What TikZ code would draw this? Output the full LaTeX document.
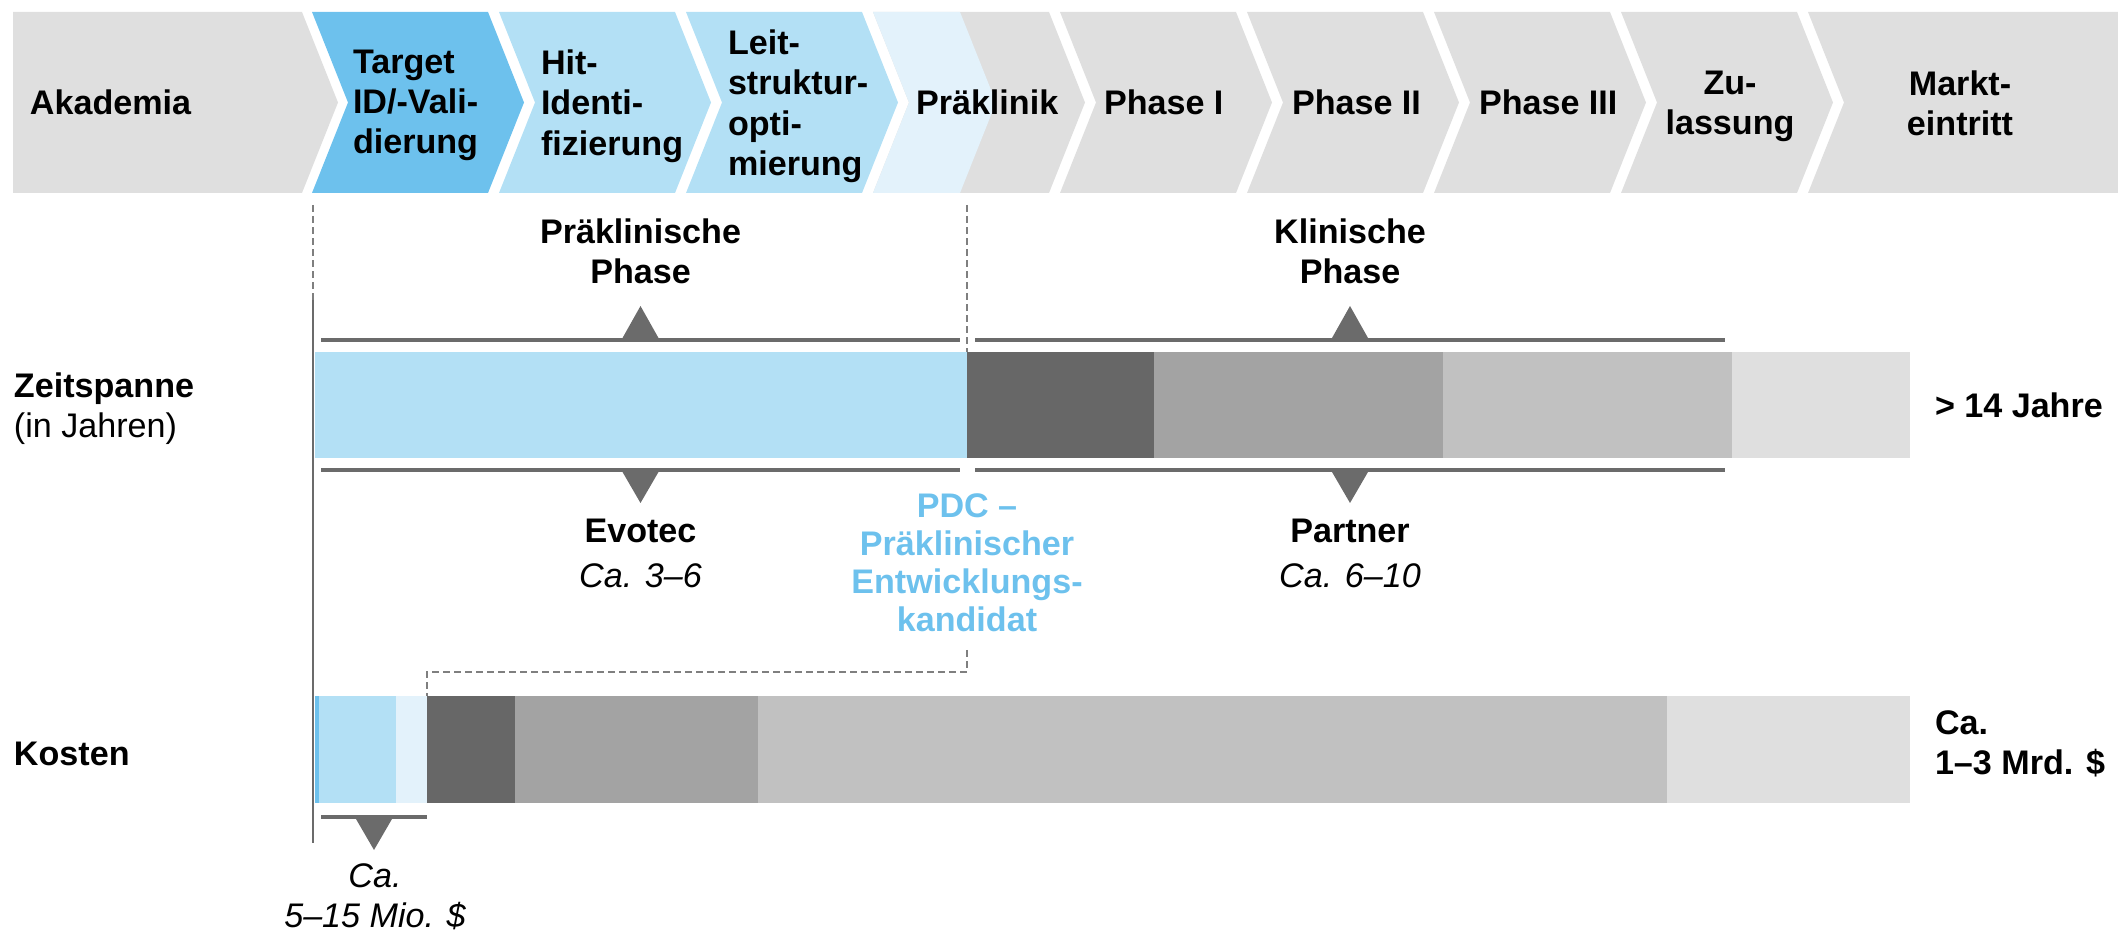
\documentclass[tikz,border=0pt]{standalone}
\usepackage{fontspec}
\setmainfont{Liberation Sans}
\usepackage{tikz}
\usetikzlibrary{arrows}

\definecolor{chevgrey}{HTML}{DFDFDF}
\definecolor{tgtblue}{HTML}{6DC1ED}
\definecolor{hitblue}{HTML}{B3E0F5}
\definecolor{paleblue}{HTML}{E3F2FB}
\definecolor{darkgrey}{HTML}{676767}
\definecolor{midgrey}{HTML}{A3A3A3}
\definecolor{lightgrey}{HTML}{C1C1C1}
\definecolor{bracegrey}{HTML}{6B6B6B}
\definecolor{dashgrey}{HTML}{7F7F7F}

\newcommand{\lblfont}{\fontsize{9.7pt}{11.5pt}\selectfont\bfseries}

\begin{document}
\begin{tikzpicture}[x=0.01cm,y=-0.01cm,
  lbl/.style={font=\lblfont,inner sep=0pt,outer sep=0pt},
  note/.style={lbl,font=\fontsize{9.7pt}{11.5pt}\selectfont\itshape},
  brace/.style={draw=bracegrey,line width=0.04cm},
  axis/.style={draw=bracegrey,line width=0.025cm},
  dashline/.style={draw=dashgrey,line width=0.016cm,dash pattern=on 0.07cm off 0.04cm}]
  \tikzstyle{tip}=[fill=bracegrey,draw=none]

  \useasboundingbox (0,0) rectangle (2118,934);

  % chevrons
  \fill[chevgrey] (13,12) -- (302,12) -- (338,102.5) -- (302,193) -- (13,193) -- cycle;
  \foreach \l/\col in {312/tgtblue,499/hitblue,686/hitblue,873/chevgrey,1060/chevgrey,1247/chevgrey,1434/chevgrey,1621/chevgrey}
    \fill[\col] (\l,12) -- ++(176,0) -- ++(36,90.5) -- ++(-36,90.5) -- ++(-176,0) -- ++(36,-90.5) -- cycle;
  \fill[paleblue] (873,12) -- (960,12) -- (996,102.5) -- (960,193) -- (873,193) -- (909,102.5) -- cycle;
  \fill[chevgrey] (1808,12) -- (2118,12) -- (2118,193) -- (1808,193) -- (1844,102.5) -- cycle;

  \node[lbl,anchor=base west] (aka) at (30,115) {Akademia};
  \node[lbl,anchor=north west,align=left] (tgt) at (353,49.6) {Target\\ID/-Vali-\\dierung};
  \node[lbl,anchor=north west,align=left] (hit) at (541,49.6) {Hit-\\Identi-\\fizierung};
  \node[lbl,anchor=north west,align=left] (leit) at (728,29.6) {Leit-\\struktur-\\opti-\\mierung};
  \node[lbl,anchor=base west] (pk) at (916,115) {Präklinik};
  \node[lbl,anchor=base west] (p1) at (1104,115) {Phase I};
  \node[lbl,anchor=base west] (p2) at (1292,115) {Phase II};
  \node[lbl,anchor=base west] (p3) at (1479,115) {Phase III};
  \node[lbl,anchor=north,align=center] (zul) at (1730,70.6) {Zu-\\lassung};
  \node[lbl,anchor=north,align=center] (mkt) at (1960,70.6) {Markt-\\eintritt};

  % phase borders
  \coordinate (dl) at (313,205);
  \coordinate (dr) at (967,205);
  \coordinate (ax) at (313,300);
  \draw[dashline] (dl) -- (ax);
  \draw[dashline] (dr) -- (967,352);
  \draw[axis] (ax) -- (313,843);

  \node[lbl,anchor=north,align=center] (pre) at (640.5,218.6) {Präklinische\\Phase};
  \node[lbl,anchor=north,align=center] (kli) at (1350,218.6) {Klinische\\Phase};

  % zeitspanne
  \foreach \a/\b/\col in {315/967/hitblue,967/1154/darkgrey,1154/1443/midgrey,1443/1732/lightgrey,1732/1910/chevgrey}
    \fill[\col] (\a,352) rectangle (\b,458);

  \draw[brace] (321,340) -- (960,340);
  \draw[brace] (975,340) -- (1725,340);
  \draw[brace] (321,470) -- (960,470);
  \draw[brace] (975,470) -- (1725,470);
  \foreach \m in {640.5,1350}{
    \fill[tip] (\m-18,338) -- (\m,306) -- (\m+18,338) -- cycle;
    \fill[tip] (\m-18,472) -- (\m,503) -- (\m+18,472) -- cycle;
  }

  \node[lbl,anchor=north,align=center] (evo) at (640.5,518.6) {Evotec\\[0.046cm]{\mdseries\itshape Ca. 3--6}};
  \node[lbl,anchor=north,align=center] (par) at (1350,518.6) {Partner\\[0.046cm]{\mdseries\itshape Ca. 6--10}};
  \node[lbl,text=tgtblue,anchor=north,align=center,font=\fontsize{9.7pt}{10.8pt}\selectfont\bfseries] (pdc) at (967,493.6)
    {PDC --\\Präklinischer\\Entwicklungs-\\kandidat};

  \node[lbl,anchor=north west,align=left] (zeit) at (14,372.6) {Zeitspanne\\{\mdseries (in Jahren)}};
  \node[lbl,anchor=base west] (jahre) at (1935,418) {> 14 Jahre};

  % kosten
  \coordinate (pdcfoot) at (967,650);
  \coordinate (costtop) at (427,696);
  \draw[dashline] (pdcfoot) -- ++(0,22) -| (costtop);

  \foreach \a/\b/\col in {315/319/tgtblue,319/396/hitblue,396/427/paleblue,427/515/darkgrey,515/758/midgrey,758/1667/lightgrey,1667/1910/chevgrey}
    \fill[\col] (\a,696) rectangle (\b,803);

  \draw[brace] (321,817) -- (427,817);
  \fill[tip] (356,819) -- (374,850) -- (392,819) -- cycle;
  \node[note,anchor=north,align=center] (mio) at (375,863.6) {Ca.\\5--15 Mio. \$};

  \node[lbl,anchor=base west] (kos) at (14,765) {Kosten};
  \node[lbl,anchor=north west,align=left] (mrd) at (1935,710.6) {Ca.\\1--3 Mrd. \$};

\end{tikzpicture}
\end{document}
